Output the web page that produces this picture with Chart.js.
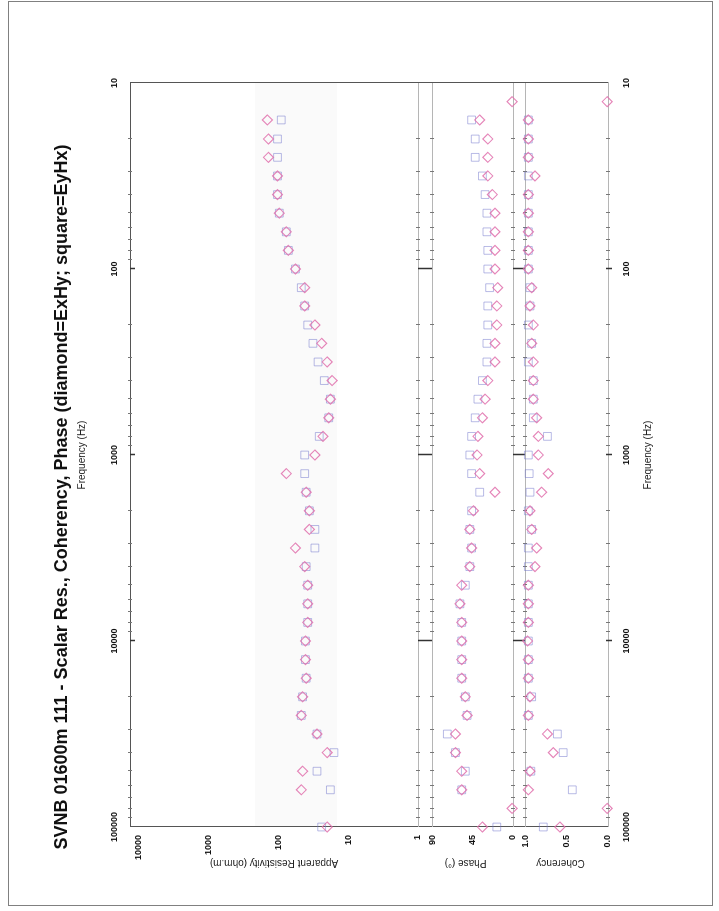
<!DOCTYPE html>
<html>
<head>
<meta charset="utf-8">
<title>SVNB 01600m 111</title>
<script src="https://cdn.jsdelivr.net/npm/chart.js@4.4.1/dist/chart.umd.min.js"></script>
<style>
  html, body { margin: 0; padding: 0; background: #fff; overflow: hidden; }
  #page { position: absolute; left: 0; top: 0; width: 719px; height: 911px; }
  /* the scanned page is turned a quarter turn, so the chart is drawn upright and rotated */
  #rot { position: absolute; left: 0; top: 0; width: 911px; height: 719px;
         transform-origin: 0 0; transform: translate(0, 911px) rotate(-90deg); }
  #frame { position: absolute; left: 8px; top: 1px; width: 703px; height: 903px; border: 1px solid #808080; }
</style>
</head>
<body>
<div id="page">
  <div id="rot"><canvas id="myChart" width="911" height="719"></canvas></div>
  <div id="frame"></div>
</div>
<script>
// frequency (Hz) of each sounding
const freqs = [12.6, 15.8, 20.0, 25.1, 31.6, 39.8, 50.1, 63.1, 79.4, 100,
  126, 158, 200, 251, 316, 398, 501, 631, 794, 1000,
  1259, 1585, 1995, 2512, 3162, 3981, 5012, 6310, 7943, 10000,
  12589, 15849, 19953, 25119, 31623, 39811, 50119, 63096, 79433, 100000];

// apparent resistivity (ohm.m), diamond = ExHy, square = EyHx
const resXY = [null, 144, 139, 139, 103, 103, 97, 77, 72, 57,
  42, 42, 30, 24, 20, 17, 18, 19, 23, 30,
  77, 40, 36, 36, 57, 42, 38, 38, 38, 41,
  41, 40, 45, 47, 28, 20, 45, 47, null, 20];
const resYX = [null, 91, 103, 103, 103, 103, 97, 77, 72, 57,
  47, 42, 38, 32, 27, 22, 18, 19, 26, 42,
  42, 40, 36, 30, 30, 40, 38, 38, 38, 41,
  41, 40, 45, 47, 28, 16, 28, 18, null, 24];

// phase (degrees)
const phaseXY = [1, 37, 28, 28, 28, 23, 20, 20, 20, 20,
  17, 18, 18, 20, 20, 28, 31, 34, 39, 40,
  37, 20, 44, 48, 46, 48, 57, 59, 57, 57,
  57, 57, 53, 51, 64, 64, 57, 57, 1, 34];
const phaseYX = [null, 46, 42, 42, 34, 31, 29, 29, 28, 28,
  26, 28, 28, 29, 29, 34, 39, 42, 46, 48,
  46, 37, 46, 48, 46, 48, 53, 59, 57, 57,
  57, 57, 53, 51, 73, 64, 53, 57, null, 18];

// coherency
const cohXY = [0.01, 0.96, 0.96, 0.96, 0.88, 0.96, 0.96, 0.96, 0.96, 0.96,
  0.92, 0.94, 0.90, 0.92, 0.90, 0.90, 0.90, 0.86, 0.84, 0.84,
  0.72, 0.80, 0.94, 0.92, 0.86, 0.88, 0.96, 0.96, 0.96, 0.97,
  0.96, 0.96, 0.94, 0.96, 0.73, 0.66, 0.94, 0.96, 0.01, 0.58];
const cohYX = [null, 0.96, 0.96, 0.96, 0.96, 0.96, 0.96, 0.96, 0.96, 0.96,
  0.94, 0.94, 0.96, 0.92, 0.96, 0.90, 0.90, 0.90, 0.73, 0.96,
  0.95, 0.94, 0.96, 0.92, 0.96, 0.96, 0.96, 0.96, 0.96, 0.96,
  0.96, 0.96, 0.92, 0.96, 0.61, 0.54, 0.93, 0.43, null, 0.78];

// tick labels
const freqTicks = [10, 100, 1000, 10000, 100000];
const resTicks = [1, 10, 100, 1000, 10000];
const phaseTicks = [0, 45, 90];
const cohTicks = [0, 0.5, 1];
const minorSteps = [2, 3, 4, 5, 6, 7, 8, 9];

const ctx = document.getElementById('myChart');

Chart.defaults.font.family = "'Liberation Sans', Arial, Helvetica, sans-serif";
Chart.defaults.color = "#111";

const pts = (arr) => freqs.map((f, i) => ({ x: f, y: arr[i] }));
const DIAMOND = "rgba(224,110,172,0.85)";
const SQUARE = "rgba(115,120,205,0.5)";

function series(label, arr, axis, diamond) {
	return {
		label: label,
		data: pts(arr),
		yAxisID: axis,
		showLine: false,
		clip: false,
		pointStyle: diamond ? 'rectRot' : 'rect',
		radius: diamond ? 5 : 5.5,
		borderWidth: diamond ? 1.1 : 1,
		borderColor: diamond ? DIAMOND : SQUARE,
		backgroundColor: 'rgba(0,0,0,0)'
	};
}

// panel outlines and the small frequency ticks along each panel edge
const panelFrame = {
	id: 'panelFrame',
	beforeDatasetsDraw(chart) {
		const { ctx, chartArea: a, scales } = chart;
		const x = scales.x, yr = scales.yr, yp = scales.yp, yc = scales.yc;
		ctx.save();
		// faint scanned tone in the resistivity panel
		const s0 = yr.getPixelForValue(14.5), s1 = yr.getPixelForValue(216);
		ctx.fillStyle = "#fafafa";
		ctx.fillRect(a.left + 1, s1, a.right - a.left - 1, s0 - s1);

		const edges = [yr.getPixelForValue(1), yp.getPixelForValue(90), yp.getPixelForValue(0), yc.getPixelForValue(1), yc.getPixelForValue(0)];
		ctx.strokeStyle = "#b5b5b5";
		ctx.lineWidth = 1;
		edges.forEach(py => {
			ctx.beginPath();
			ctx.moveTo(a.left, Math.round(py) + 0.5);
			ctx.lineTo(a.right, Math.round(py) + 0.5);
			ctx.stroke();
		});
		// 10 Hz edge
		ctx.strokeStyle = "#555";
		ctx.beginPath();
		ctx.moveTo(Math.round(a.right) + 0.5, a.top);
		ctx.lineTo(Math.round(a.right) + 0.5, a.bottom);
		ctx.stroke();

		// minor ticks
		ctx.strokeStyle = "#777";
		const tickRows = [a.top].concat(edges);
		freqTicks.slice(0, 4).forEach(d => {
			minorSteps.forEach(m => {
				const px = Math.round(x.getPixelForValue(d * m)) + 0.5;
				tickRows.forEach(py => {
					ctx.beginPath();
					ctx.moveTo(px, py - 2);
					ctx.lineTo(px, py + 2);
					ctx.stroke();
				});
			});
		});
		// decade ticks reaching across the gap between panels
		ctx.strokeStyle = "#333";
		ctx.lineWidth = 1.5;
		freqTicks.slice(1, 4).forEach(d => {
			const px = Math.round(x.getPixelForValue(d)) + 0.5;
			[[edges[0], edges[1]], [edges[2], edges[3]], [a.top, a.top + 5], [a.bottom - 2, a.bottom + 4]].forEach(([t, b]) => {
				ctx.beginPath();
				ctx.moveTo(px, t);
				ctx.lineTo(px, b);
				ctx.stroke();
			});
		});
		ctx.restore();
	}
};

const tickFont = { size: 9, weight: 'bold' };
const titleFont = { size: 10 };

function freqAxis(pos, height, padTicks, titlePad) {
	return {
		type: 'logarithmic',
		position: pos,
		min: 10,
		max: 100000,
		reverse: true,
		afterBuildTicks: s => { s.ticks = freqTicks.map(v => ({ value: v })); },
		afterFit: s => { s.height = height; },
		grid: { display: false, drawTicks: false },
		border: { display: true, color: pos === 'top' ? "#555" : "#b5b5b5" },
		ticks: { padding: padTicks, font: tickFont, maxRotation: 0, autoSkip: false, callback: v => String(v) },
		title: { display: true, text: 'Frequency (Hz)', font: titleFont, color: "#222", padding: titlePad }
	};
}

function panelAxis(opts) {
	return Object.assign({
		position: 'left',
		stack: 'panels',
		afterFit: s => { s.width = 84; },
		grid: { display: false, drawTicks: false },
		border: { display: true, color: "#555" },
		ticks: { padding: 8, font: tickFont, autoSkip: false }
	}, opts);
}

new Chart(ctx, {
	type: 'scatter',
	data: {
		datasets: [
			series('Res ExHy', resXY, 'yr', true),
			series('Res EyHx', resYX, 'yr', false),
			series('Phase ExHy', phaseXY, 'yp', true),
			series('Phase EyHx', phaseYX, 'yp', false),
			series('Coh ExHy', cohXY, 'yc', true),
			series('Coh EyHx', cohYX, 'yc', false)
		]
	},
	options: {
		responsive: false,
		animation: false,
		layout: { padding: { left: 0, right: 83, top: 0, bottom: 0 } },
		plugins: {
			legend: { display: false },
			tooltip: { enabled: false },
			title: {
				display: true,
				text: 'SVNB 01600m 111 - Scalar Res., Coherency, Phase (diamond=ExHy; square=EyHx)',
				font: { size: 18, weight: 'bold' },
				color: "#111",
				padding: { top: 51, bottom: 0 }
			}
		},
		scales: {
			x: freqAxis('bottom', 111, 13.6, { top: 0, bottom: 65 }),
			x2: freqAxis('top', 57.4, 9.6, { top: 3.4, bottom: 0 }),
			yr: panelAxis({
				type: 'logarithmic', min: 1, max: 13370, weight: 3, stackWeight: 288,
				afterBuildTicks: s => { s.ticks = resTicks.map(v => ({ value: v })); },
				ticks: { padding: 8, font: tickFont, autoSkip: false, callback: v => String(v) },
				title: { display: true, text: 'Apparent Resistivity (ohm.m)', font: titleFont, color: "#222", padding: { top: 42, bottom: 0 } }
			}),
			yp: panelAxis({
				type: 'linear', min: 0, max: 105.6, weight: 2, stackWeight: 95,
				afterBuildTicks: s => { s.ticks = phaseTicks.map(v => ({ value: v })); },
				ticks: { padding: 8, font: tickFont, autoSkip: false, callback: v => String(v) },
				title: { display: true, text: 'Phase (°)', font: titleFont, color: "#222", padding: { top: 42, bottom: 0 } }
			}),
			yc: panelAxis({
				type: 'linear', min: 0, max: 1.145, weight: 1, stackWeight: 95,
				afterBuildTicks: s => { s.ticks = cohTicks.map(v => ({ value: v })); },
				ticks: { padding: 8, font: tickFont, autoSkip: false, callback: v => v.toFixed(1) },
				title: { display: true, text: 'Coherency', font: titleFont, color: "#222", padding: { top: 42, bottom: 0 } }
			})
		}
	},
	plugins: [panelFrame]
});
</script>
</body>
</html>
